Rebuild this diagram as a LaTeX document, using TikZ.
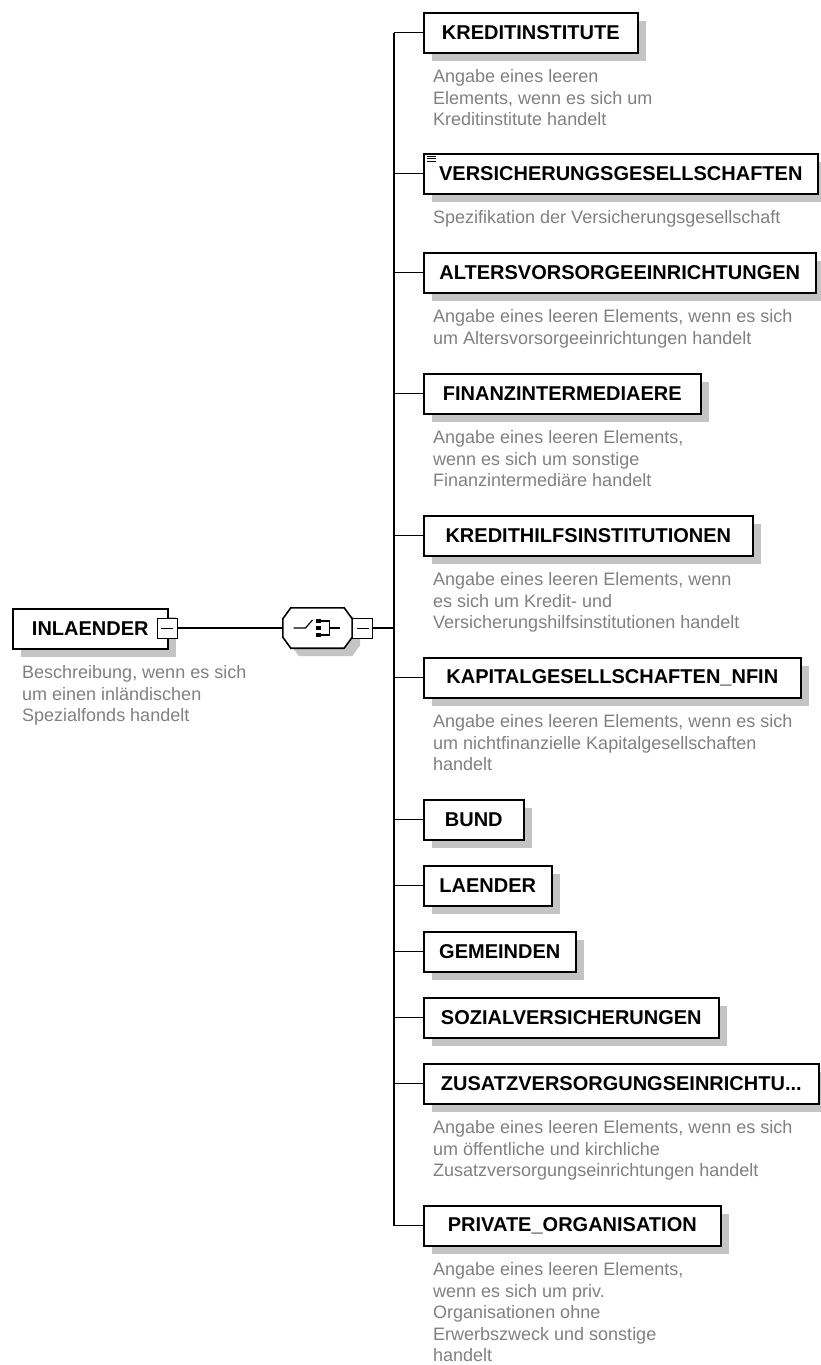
\documentclass[tikz,border=0pt]{standalone}
\usepackage{fontspec}
\setmainfont{Liberation Sans}
\usetikzlibrary{positioning}
\usetikzlibrary{shadows}
\definecolor{descgray}{RGB}{128,128,128}
\definecolor{shadowgray}{RGB}{196,196,196}
\newcommand{\elemfont}{\fontsize{20}{24}\selectfont\bfseries}
\newcommand{\descfont}{\fontsize{18}{21.5}\selectfont}
\tikzset{elem/.style={rectangle,draw=black,line width=1.6pt,fill=white,
inner sep=0pt,minimum height=40pt,anchor=north west,font=\elemfont,
general shadow={fill=shadowgray,draw=none,shadow xshift=8pt,shadow yshift=-8pt}}}
\tikzset{desc/.style={anchor=north west,inner sep=0pt,align=left,
text=descgray,font=\descfont}}
\tikzset{minusbox/.style={rectangle,draw=black,line width=1pt,fill=white,
inner sep=0pt,minimum size=20pt,
path picture={\draw[line width=1pt] ([xshift=4pt]path picture bounding box.west)
-- ([xshift=-4pt]path picture bounding box.east);}}}
\tikzset{choicebox/.style={rectangle,draw=none,inner sep=0pt,
minimum width=69pt,minimum height=40pt}}
\tikzset{octagon/.style={line width=1.6pt}}
\tikzset{conn/.style={line width=1.2pt}}

\begin{document}
\begin{tikzpicture}[x=1pt,y=-1pt]
    \useasboundingbox (0,0) rectangle (820,1365);

    % root element and its compositor
    \node[elem,minimum width=155pt] (inlaender) at (12,608) {INLAENDER};
    \node[desc] (inlaenderdesc) at ([xshift=10pt,yshift=-16pt]inlaender.south west)
        {Beschreibung, wenn es sich\\um einen inländischen\\Spezialfonds handelt};
    \node[minusbox] (inlminus) at (167,628) {};

    \node[choicebox] (choice) at (317.5,628) {};
    \fill[shadowgray,transform canvas={shift={(8pt,-8pt)}}]
        ([xshift=8pt]choice.north west) -- ([xshift=-8pt]choice.north east)
        -- ([yshift=-11pt]choice.north east) -- ([yshift=11pt]choice.south east)
        -- ([xshift=-8pt]choice.south east) -- ([xshift=8pt]choice.south west)
        -- ([yshift=11pt]choice.south west) -- ([yshift=-11pt]choice.north west) -- cycle;
    \filldraw[octagon,fill=white,draw=black]
        ([xshift=8pt]choice.north west) -- ([xshift=-8pt]choice.north east)
        -- ([yshift=-11pt]choice.north east) -- ([yshift=11pt]choice.south east)
        -- ([xshift=-8pt]choice.south east) -- ([xshift=8pt]choice.south west)
        -- ([yshift=11pt]choice.south west) -- ([yshift=-11pt]choice.north west) -- cycle;
    \node[minusbox] (choiceminus) at (362.5,628) {};
    \coordinate (trunk) at (394,628);

    \draw[line width=1.2pt] ([xshift=-24pt]choice.center) -- ([xshift=-12pt]choice.center)
        -- ([shift={(-5pt,8pt)}]choice.center);
    \fill ([shift={(-1.5pt,4.8pt)}]choice.center) rectangle ([shift={(3pt,9.3pt)}]choice.center);
    \fill ([shift={(-1.5pt,-2.2pt)}]choice.center) rectangle ([shift={(3pt,2.2pt)}]choice.center);
    \fill ([shift={(-1.5pt,-9.3pt)}]choice.center) rectangle ([shift={(3pt,-4.8pt)}]choice.center);
    \draw[line width=1.2pt] ([shift={(3pt,7pt)}]choice.center) -- ([shift={(12pt,7pt)}]choice.center)
        -- ([shift={(12pt,-7pt)}]choice.center) -- ([shift={(3pt,-7pt)}]choice.center);
    \draw[line width=1.2pt] ([xshift=12pt]choice.center) -- ([xshift=22pt]choice.center);

    \draw[conn] (inlminus.east) -- (choice.west);
    \draw[conn] (choiceminus.east) -- (trunk);

    % child elements
    \node[elem,minimum width=214pt] (kredit) at (423,12) {KREDITINSTITUTE};
    \node[desc] (kreditdesc) at ([xshift=10pt,yshift=-16pt]kredit.south west)
        {Angabe eines leeren\\Elements, wenn es sich um\\Kreditinstitute handelt};

    \node[elem,minimum width=394pt] (versich) at (423,153) {VERSICHERUNGSGESELLSCHAFTEN};
    \draw[line width=0.8pt] ([shift={(4pt,-3pt)}]versich.north west) -- ++(9pt,0pt);
    \draw[line width=0.8pt] ([shift={(4pt,-5.5pt)}]versich.north west) -- ++(9pt,0pt);
    \draw[line width=0.8pt] ([shift={(4pt,-8pt)}]versich.north west) -- ++(9pt,0pt);
    \node[desc] (versichdesc) at ([xshift=10pt,yshift=-16pt]versich.south west)
        {Spezifikation der Versicherungsgesellschaft};

    \node[elem,minimum width=392pt] (alters) at (423,252) {ALTERSVORSORGEEINRICHTUNGEN};
    \node[desc] (altersdesc) at ([xshift=10pt,yshift=-16pt]alters.south west)
        {Angabe eines leeren Elements, wenn es sich\\um Altersvorsorgeeinrichtungen handelt};

    \node[elem,minimum width=277pt] (finanz) at (423,373) {FINANZINTERMEDIAERE};
    \node[desc] (finanzdesc) at ([xshift=10pt,yshift=-16pt]finanz.south west)
        {Angabe eines leeren Elements,\\wenn es sich um sonstige\\Finanzintermediäre handelt};

    \node[elem,minimum width=329pt] (kredithilfs) at (423,515) {KREDITHILFSINSTITUTIONEN};
    \node[desc] (kredithilfsdesc) at ([xshift=10pt,yshift=-16pt]kredithilfs.south west)
        {Angabe eines leeren Elements, wenn\\es sich um Kredit- und\\Versicherungshilfsinstitutionen handelt};

    \node[elem,minimum width=377pt] (kapital) at (423,657) {KAPITALGESELLSCHAFTEN\_NFIN};
    \node[desc] (kapitaldesc) at ([xshift=10pt,yshift=-16pt]kapital.south west)
        {Angabe eines leeren Elements, wenn es sich\\um nichtfinanzielle Kapitalgesellschaften\\handelt};

    \node[elem,minimum width=100pt] (bund) at (423,799) {BUND};
    \node[elem,minimum width=128pt] (laender) at (423,865) {LAENDER};
    \node[elem,minimum width=152pt] (gemeinden) at (423,931) {GEMEINDEN};
    \node[elem,minimum width=295pt] (sozial) at (423,997) {SOZIALVERSICHERUNGEN};

    \node[elem,minimum width=395pt] (zusatz) at (423,1063) {ZUSATZVERSORGUNGSEINRICHTU...};
    \node[desc] (zusatzdesc) at ([xshift=10pt,yshift=-16pt]zusatz.south west)
        {Angabe eines leeren Elements, wenn es sich\\um öffentliche und kirchliche\\Zusatzversorgungseinrichtungen handelt};

    \node[elem,minimum width=297pt] (privat) at (423,1205) {PRIVATE\_ORGANISATION};
    \node[desc] (privatdesc) at ([xshift=10pt,yshift=-16pt]privat.south west)
        {Angabe eines leeren Elements,\\wenn es sich um priv.\\Organisationen ohne\\Erwerbszweck und sonstige\\handelt};

    % trunk and branches
    \draw[conn] (kredit.west -| trunk) -- (privat.west -| trunk);
    \draw[conn] (kredit.west -| trunk) -- (kredit.west);
    \draw[conn] (versich.west -| trunk) -- (versich.west);
    \draw[conn] (alters.west -| trunk) -- (alters.west);
    \draw[conn] (finanz.west -| trunk) -- (finanz.west);
    \draw[conn] (kredithilfs.west -| trunk) -- (kredithilfs.west);
    \draw[conn] (kapital.west -| trunk) -- (kapital.west);
    \draw[conn] (bund.west -| trunk) -- (bund.west);
    \draw[conn] (laender.west -| trunk) -- (laender.west);
    \draw[conn] (gemeinden.west -| trunk) -- (gemeinden.west);
    \draw[conn] (sozial.west -| trunk) -- (sozial.west);
    \draw[conn] (zusatz.west -| trunk) -- (zusatz.west);
    \draw[conn] (privat.west -| trunk) -- (privat.west);

\end{tikzpicture}
\end{document}
